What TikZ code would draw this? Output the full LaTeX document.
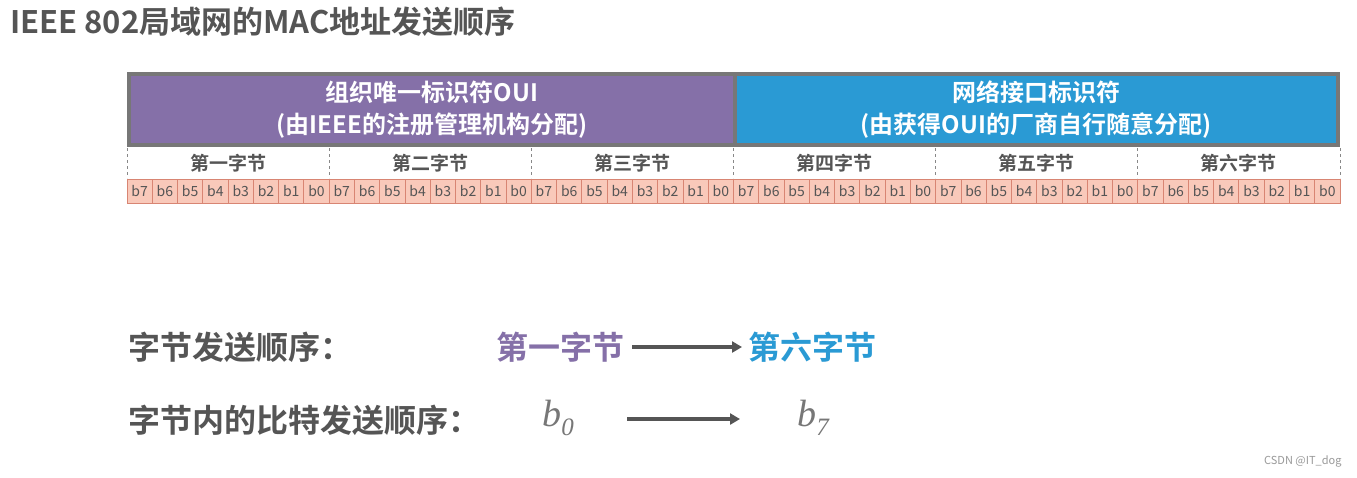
\documentclass[tikz,border=0pt]{standalone}
\usepackage{fontspec}
\setmainfont{Noto Sans CJK SC}
\newfontfamily\cjkb{Noto Sans CJK SC Bold}
\newfontfamily\lmr{Liberation Serif}
\usetikzlibrary{arrows.meta}
\definecolor{purp}{HTML}{8570A8}
\definecolor{blu}{HTML}{2A9AD4}
\definecolor{dg}{HTML}{555555}
\definecolor{pinkf}{HTML}{F9C9BA}
\definecolor{pinkd}{HTML}{D88573}
\newcommand{\bsub}[1]{{\lmr\itshape\fontsize{38}{38}\selectfont b\raisebox{-9pt}{\fontsize{25}{25}\selectfont #1}}}
\tikzset{
  bit/.style={draw=pinkd,fill=pinkf,line width=0.8pt,inner sep=0pt,font=\fontsize{14}{14}\selectfont,text=dg},
  bytelab/.style={font=\cjkb\fontsize{19}{19}\selectfont,text=dg},
  hdr/.style={font=\cjkb\fontsize{24}{32}\selectfont,text=white,align=center},
  big/.style={font=\cjkb\fontsize{32}{32}\selectfont,anchor=west},
  arr/.style={-{Triangle[length=10pt,width=11pt]},line width=3.5pt,draw=dg}
}
\begin{document}
\begin{tikzpicture}[x=1pt,y=-1pt]
\useasboundingbox[fill=white] (0,0) rectangle (1357,477);
\node[font=\cjkb\fontsize{31}{31}\selectfont,text=dg,anchor=west,inner sep=0pt] (title) at (10,22) {IEEE 802局域网的MAC地址发送顺序};
\fill[dg!80] (127,72) rectangle (1340,147);
\fill[purp] (131,76) rectangle (733,143);
\fill[blu] (737,76) rectangle (1336,143);
\node[hdr] (oui) at (432,110) {组织唯一标识符OUI\\(由IEEE的注册管理机构分配)};
\node[hdr] (nic) at (1036,110) {网络接口标识符\\(由获得OUI的厂商自行随意分配)};
\foreach \i/\t in {0/第一字节,1/第二字节,2/第三字节,3/第四字节,4/第五字节,5/第六字节}{
  \node[bytelab] (byte\i) at ({127+202.17*\i+101},163) {\t};
}
\foreach \i in {0,...,6}{
  \draw[dg!70,dashed,line width=1pt] ({127+202.17*\i},148) -- ({127+202.17*\i},178);
}
\foreach \k in {0,...,47}{
  \pgfmathtruncatemacro{\b}{7-mod(\k,8)}
  \node[bit,minimum width=25.27pt,minimum height=24pt] (bit\k) at ({127+25.27*\k+12.63},191) {b\b};
}
\node[big,text=dg,inner sep=0pt] (l1) at (128,347) {字节发送顺序：};
\node[big,text=purp,inner sep=0pt] (f1) at (496,347) {第一字节};
\node[big,text=blu,inner sep=0pt] (f6) at (748,347) {第六字节};
\draw[arr] ([xshift=8pt]f1.east) -- ([xshift=-6pt]f6.west);
\node[big,text=dg,inner sep=0pt] (l2) at (128,420) {字节内的比特发送顺序：};
\node[text=dg!80,inner sep=0pt] (b0) at (558,418) {\bsub{0}};
\node[text=dg!80,inner sep=0pt] (b7) at (813,418) {\bsub{7}};
\draw[arr] (627,419) coordinate (s) -- (740,419) coordinate (e);
\node[font=\fontsize{11}{11}\selectfont,text=gray!80,anchor=east] (wm) at (1345,461) {CSDN @IT\_dog};
\end{tikzpicture}
\end{document}
